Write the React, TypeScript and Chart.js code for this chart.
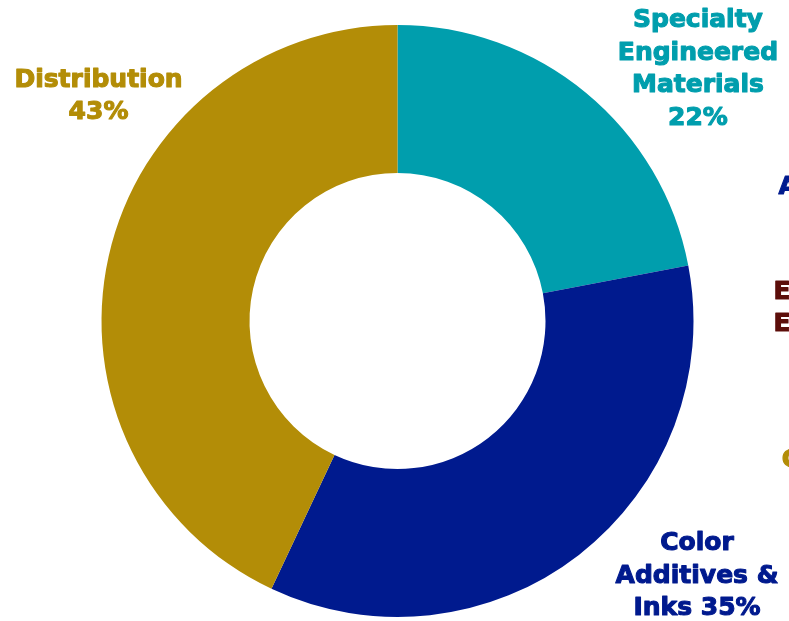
import React, { useEffect, useRef } from "react";
import { Chart, registerables } from "chart.js";

Chart.register(...registerables);

const categories = ["Specialty Engineered Materials", "Color Additives & Inks", "Distribution"];
const shares = [22, 35, 43];
const colors = ["#009EAD", "#001A8E", "#B38D07"];
const labelLines = [
  ["Specialty", "Engineered", "Materials", "22%"],
  ["Color", "Additives &", "Inks 35%"],
  ["Distribution", "43%"],
];
// label anchors relative to donut centre, in units of outer radius
const labelAnchors = [
  [1.015, -0.85],
  [1.012, 0.862],
  [-1.01, -0.758],
];
// partially visible labels at the right edge (from a neighbouring legend)
const edgeTexts = ["A", "E", "E", "C"];
const edgeColors = ["#001A8E", "#5C0E0A", "#5C0E0A", "#B38D07"];
const edgeAnchors = [
  [1.287, -0.451],
  [1.27, -0.096],
  [1.27, 0.012],
  [1.298, 0.47],
];

const FONT = "bold 25px 'DejaVu Sans'";
const LINE = 32.5;

const labelPlugin = {
  id: "outerLabels",
  afterDraw(chart: any) {
    const arc = chart.getDatasetMeta(0).data[0];
    if (!arc) return;
    const { x: cx, y: cy, outerRadius: r } = arc;
    const ctx = chart.ctx;
    ctx.save();
    ctx.font = FONT;
    ctx.textAlign = "center";
    ctx.textBaseline = "middle";
    ctx.lineWidth = 1.1;
    ctx.lineJoin = "round";
    const draw = (t: string, x: number, y: number, c: string) => {
      ctx.fillStyle = c;
      ctx.strokeStyle = c;
      ctx.fillText(t, x, y);
      ctx.strokeText(t, x, y);
    };
    labelLines.forEach((lines, i) => {
      const ax = cx + labelAnchors[i][0] * r;
      const ay = cy + labelAnchors[i][1] * r;
      const start = ay - ((lines.length - 1) * LINE) / 2;
      lines.forEach((t, j) => draw(t, ax, start + j * LINE, colors[i]));
    });
    ctx.textAlign = "left";
    edgeTexts.forEach((t, i) => {
      draw(t, cx + edgeAnchors[i][0] * r, cy + edgeAnchors[i][1] * r, edgeColors[i]);
    });
    ctx.restore();
  },
};

export default function App() {
  const ref = useRef<HTMLCanvasElement>(null);
  useEffect(() => {
    if (!ref.current) return;
    const chart = new Chart(ref.current, {
      type: "doughnut",
      data: {
        labels: categories,
        datasets: [
          {
            data: shares,
            backgroundColor: colors,
            borderWidth: 0,
          },
        ],
      },
      options: {
        animation: false,
        responsive: true,
        maintainAspectRatio: false,
        cutout: "50%",
        layout: { padding: { left: 101, right: 95, top: 25, bottom: 4 } },
        plugins: { legend: { display: false }, tooltip: { enabled: false } },
      },
      plugins: [labelPlugin],
    });
    return () => chart.destroy();
  }, []);
  return (
    <div style={{ position: "absolute", left: 0, top: 0, width: 789, height: 621, background: "#fff" }}>
      <canvas ref={ref} />
    </div>
  );
}
